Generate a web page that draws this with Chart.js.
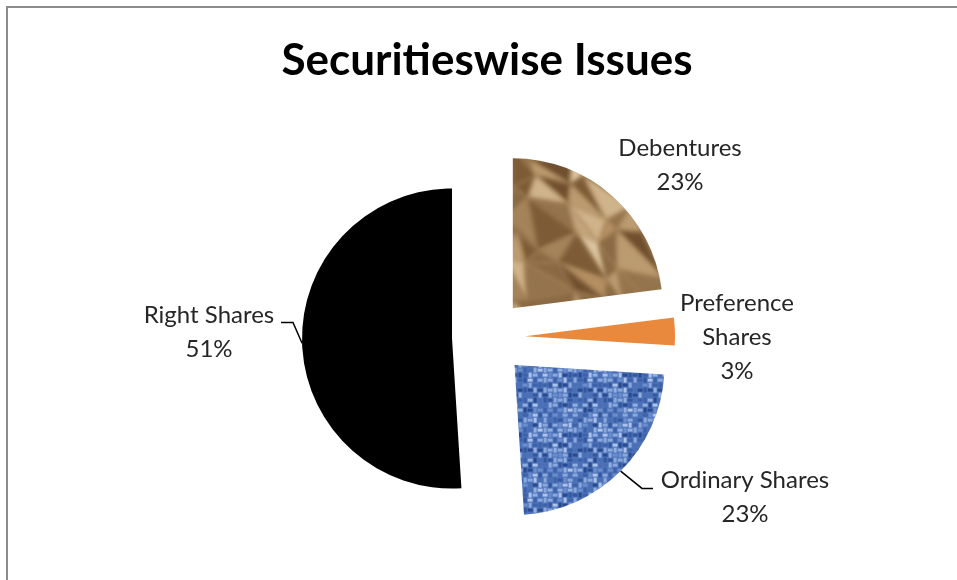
<!DOCTYPE html>
<html>
<head>
<meta charset="utf-8">
<script src="https://cdn.jsdelivr.net/npm/chart.js@4/dist/chart.umd.min.js"></script>
<style>
  html, body { margin: 0; padding: 0; background: #ffffff; }
  #wrap { width: 957px; height: 580px; position: relative; }
</style>
</head>
<body>
<div id="wrap"><canvas id="c" width="957" height="580"></canvas></div>
<script>
// ---- data ----
const categories = ["Debentures", "Preference Shares", "Ordinary Shares", "Right Shares"];
const shareValues = [23, 3, 23, 51];
const percentLabels = ["23%", "3%", "23%", "51%"];
const titleText = "Securitieswise Issues";

// ---- textures (style only) ----
function hash(a, b) {
  const v = Math.sin(a * 127.1 + b * 311.7) * 43758.5453;
  return v - Math.floor(v);
}
function makeBrownPattern(ctx, w, h) {
  const c = document.createElement('canvas');
  c.width = w; c.height = h;
  const g = c.getContext('2d');
  g.fillStyle = '#a9865b';
  g.fillRect(0, 0, w, h);
  const step = 30;
  const nx = Math.ceil(w / step) + 2, ny = Math.ceil(h / step) + 2;
  const pts = [];
  for (let j = 0; j <= ny; j++) {
    pts.push([]);
    for (let i = 0; i <= nx; i++) {
      const jx = (hash(i, j) - 0.5) * step * 0.9;
      const jy = (hash(j + 17, i + 5) - 0.5) * step * 0.9;
      pts[j].push([(i - 1) * step + jx, (j - 1) * step + jy]);
    }
  }
  const tones = ['#6f4f2e', '#8a6a44', '#a5835a', '#bb9b70', '#cfb38a', '#dcc5a0', '#94744c', '#b48f62', '#7c5b36', '#c4a67c'];
  g.filter = 'blur(2.5px)';
  for (let j = 0; j < ny; j++) {
    for (let i = 0; i < nx; i++) {
      const p00 = pts[j][i], p10 = pts[j][i + 1], p01 = pts[j + 1][i], p11 = pts[j + 1][i + 1];
      const tris = [[p00, p10, p11], [p00, p11, p01]];
      tris.forEach((t, k) => {
        g.fillStyle = tones[Math.floor(hash(i * 3 + k, j * 5 + 1) * tones.length)];
        g.beginPath();
        g.moveTo(t[0][0], t[0][1]); g.lineTo(t[1][0], t[1][1]); g.lineTo(t[2][0], t[2][1]);
        g.closePath(); g.fill();
      });
    }
  }
  g.filter = 'none';
  return ctx.createPattern(c, 'no-repeat');
}

function makeBluePattern(ctx) {
  const s = 60;
  const c = document.createElement('canvas');
  c.width = s; c.height = s;
  const g = c.getContext('2d');
  g.fillStyle = '#4f74b9';
  g.fillRect(0, 0, s, s);
  const shades = ['#34589f', '#8aa8dc', '#4a6fb5', '#adc3ea', '#2a4a90', '#6a8dcc', '#93afe0', '#3d62aa'];
  const cell = 5;
  for (let j = 0; j < s / cell; j++) {
    for (let i = 0; i < s / cell; i++) {
      const k = Math.floor(hash(i + 3, j + 11) * shades.length);
      g.fillStyle = shades[k];
      if ((i + j) % 2 === 0) g.fillRect(i * cell, j * cell + 1, cell, 3);
      else g.fillRect(i * cell + 1, j * cell, 3, cell);
    }
  }
  return ctx.createPattern(c, 'repeat');
}

const canvas = document.getElementById('c');
const ctx0 = canvas.getContext('2d');
const fills = [makeBrownPattern(ctx0, canvas.width, canvas.height), '#e8893d', makeBluePattern(ctx0), '#000000'];

// ---- styling: explode distance of each slice, label blocks relative to the pie centre ----
const explode = [39, 38, 39, 35];
const labelFont = '24px Lato';
const lineH = 34;
const labelStyle = [
  { dx: 193, dy: -172 },
  { dx: 250, dy: 0, lines: ["Preference", "Shares"] },
  { dx: 258, dy: 160, leader: { elbow: [155, 151], end: [166, 151] } },
  { dx: -278, dy: -5, leader: { elbow: [-194, -15], end: [-206, -15] } }
];

const framePlugin = {
  id: 'frame',
  beforeDraw(chart) {
    const c = chart.ctx;
    c.save();
    c.fillStyle = '#ffffff';
    c.fillRect(0, 0, chart.width, chart.height);
    c.strokeStyle = '#8c8c8c';
    c.lineWidth = 2;
    c.beginPath();
    c.moveTo(7, chart.height);
    c.lineTo(7, 7);
    c.lineTo(chart.width, 7);
    c.stroke();
    c.restore();
  }
};

function midAngle(arc) {
  const p = arc.getProps(['startAngle', 'endAngle']);
  return (p.startAngle + p.endAngle) / 2;
}

const explodePlugin = {
  id: 'explode',
  beforeDatasetDraw(chart, args) {
    const c = chart.ctx;
    args.meta.data.forEach((arc, i) => {
      const m = midAngle(arc);
      c.save();
      c.translate(Math.cos(m) * explode[i], Math.sin(m) * explode[i]);
      arc.draw(c, chart.chartArea);
      c.restore();
    });
    return false;
  }
};

const labelPlugin = {
  id: 'sliceLabels',
  afterDatasetsDraw(chart) {
    const c = chart.ctx;
    const meta = chart.getDatasetMeta(0);
    c.save();
    c.font = labelFont;
    c.fillStyle = '#262626';
    c.textBaseline = 'middle';
    c.textAlign = 'center';
    meta.data.forEach((arc, i) => {
      const p = arc.getProps(['x', 'y', 'outerRadius']);
      const m = midAngle(arc);
      const st = labelStyle[i];
      if (st.leader) {
        const ex = p.x + Math.cos(m) * (explode[i] + p.outerRadius);
        const ey = p.y + Math.sin(m) * (explode[i] + p.outerRadius);
        c.strokeStyle = '#000000';
        c.lineWidth = 1.5;
        c.beginPath();
        c.moveTo(ex, ey);
        c.lineTo(p.x + st.leader.elbow[0], p.y + st.leader.elbow[1]);
        c.lineTo(p.x + st.leader.end[0], p.y + st.leader.end[1]);
        c.stroke();
      }
      const lines = (st.lines || [categories[i]]).concat([percentLabels[i]]);
      lines.forEach((t, k) => {
        c.fillText(t, p.x + st.dx, p.y + st.dy + (k - (lines.length - 1) / 2) * lineH);
      });
    });
    c.restore();
  }
};

new Chart(canvas, {
  type: 'pie',
  data: {
    labels: categories,
    datasets: [{
      data: shareValues,
      backgroundColor: fills,
      borderWidth: 0,
      radius: 150
    }]
  },
  options: {
    responsive: false,
    animation: false,
    events: [],
    layout: { padding: { left: 30, right: 13, top: 0, bottom: 18 } },
    plugins: {
      legend: { display: false },
      tooltip: { enabled: false },
      title: {
        display: true,
        text: titleText,
        color: '#000000',
        font: { family: 'Lato', size: 44, weight: 'bold' },
        padding: { top: 34, bottom: 26 }
      }
    }
  },
  plugins: [framePlugin, explodePlugin, labelPlugin]
});
</script>
</body>
</html>
